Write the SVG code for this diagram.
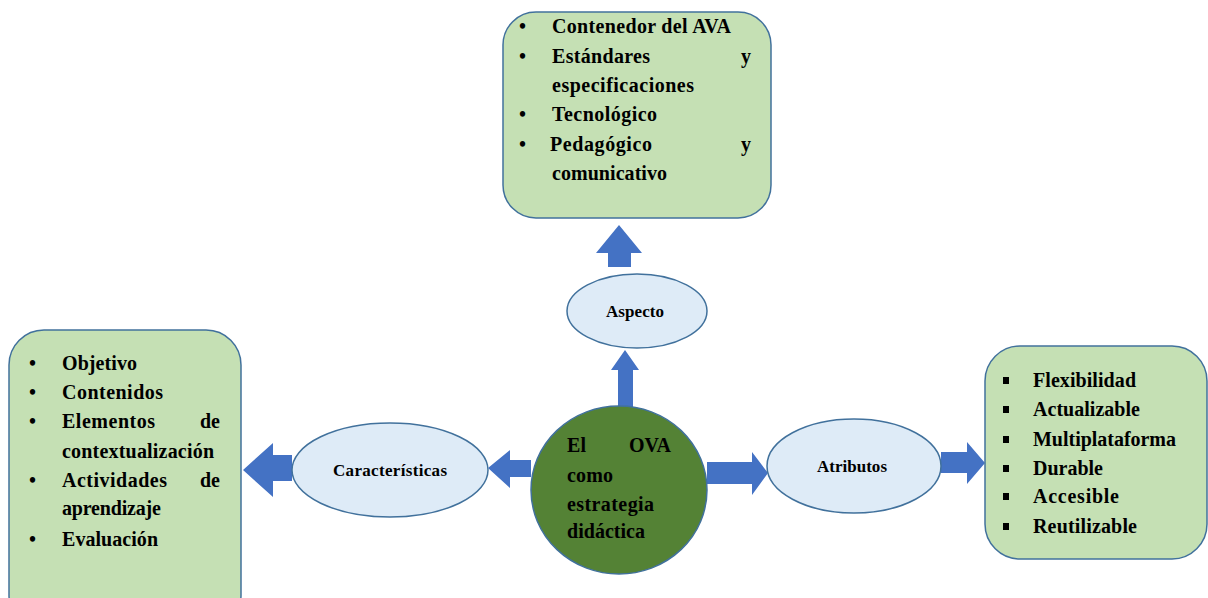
<svg xmlns="http://www.w3.org/2000/svg" width="1208" height="598" viewBox="0 0 1208 598">
<style>
.box{fill:#C5E0B4;stroke:#41719C;stroke-width:1.5}
.ell{fill:#DEEBF7;stroke:#41719C;stroke-width:1.5}
.arr{fill:#4472C4;stroke:none}
.t{font-family:"Liberation Serif","Times New Roman",serif;font-weight:bold;font-size:20px;fill:#000}
.l{font-family:"Liberation Serif","Times New Roman",serif;font-weight:bold;font-size:17px;fill:#000;text-anchor:middle}
</style>
<rect width="1208" height="598" fill="#fff"/>
<g id="connectors">
<polygon class="arr" points="608,267 608,253 596,253 619,225 642,253 631,253 631,267"/>
<polygon class="arr" points="618,407 618,370 611,370 625,350 639,370 633,370 633,407"/>
<polygon class="arr" points="531,460 510,460 510,450 488,468 510,488 510,477 531,477"/>
<polygon class="arr" points="292,455 273,455 273,443 243,470 273,497 273,481 292,481"/>
<polygon class="arr" points="707,462 752,462 752,452 768,473 752,495 752,484 707,484"/>
<polygon class="arr" points="941,452 967,452 967,442 985,463 967,484 967,473 941,473"/>
</g>
<g id="aspectos-box">
<rect class="box" x="503" y="12" width="268" height="206" rx="33"/>
<text class="t" x="519" y="33">•</text><text class="t" x="552" y="33" textLength="179">Contenedor del AVA</text>
<text class="t" x="519" y="62.5">•</text><text class="t" x="552" y="62.5" textLength="98">Estándares</text><text class="t" x="741" y="62.5">y</text>
<text class="t" x="552" y="92" textLength="142">especificaciones</text>
<text class="t" x="519" y="121">•</text><text class="t" x="552" y="121" textLength="105">Tecnológico</text>
<text class="t" x="519" y="150.5">•</text><text class="t" x="550" y="150.5" textLength="102">Pedagógico</text><text class="t" x="741" y="150.5">y</text>
<text class="t" x="552" y="180" textLength="115">comunicativo</text>
</g>
<g id="aspecto">
<ellipse class="ell" cx="637" cy="311" rx="70" ry="37"/>
<text class="l" x="635" y="317" textLength="58">Aspecto</text>
</g>
<g id="caracteristicas-box">
<rect class="box" x="9" y="330" width="232" height="300" rx="35"/>
<text class="t" x="29" y="370">•</text><text class="t" x="62" y="370" textLength="75">Objetivo</text>
<text class="t" x="29" y="399">•</text><text class="t" x="62" y="399" textLength="101">Contenidos</text>
<text class="t" x="29" y="428">•</text><text class="t" x="62" y="428" textLength="93">Elementos</text><text class="t" x="200" y="428" textLength="20">de</text>
<text class="t" x="62" y="458" textLength="152">contextualización</text>
<text class="t" x="29" y="487">•</text><text class="t" x="62" y="487" textLength="105">Actividades</text><text class="t" x="200" y="487" textLength="20">de</text>
<text class="t" x="62" y="515" textLength="99">aprendizaje</text>
<text class="t" x="29" y="546">•</text><text class="t" x="62" y="546" textLength="96">Evaluación</text>
</g>
<g id="caracteristicas">
<ellipse class="ell" cx="390" cy="470" rx="98" ry="47"/>
<text class="l" x="390" y="476" textLength="114">Características</text>
</g>
<g id="ova">
<ellipse cx="619" cy="490" rx="88" ry="84" fill="#548235" stroke="#41719C" stroke-width="1.5"/>
<text class="t" x="567" y="452" textLength="19">El</text><text class="t" x="629" y="452" textLength="42">OVA</text>
<text class="t" x="567" y="482" textLength="46">como</text>
<text class="t" x="567" y="511" textLength="87">estrategia</text>
<text class="t" x="567" y="538" textLength="78">didáctica</text>
</g>
<g id="atributos">
<ellipse class="ell" cx="854" cy="466" rx="87" ry="47"/>
<text class="l" x="852" y="472" textLength="70">Atributos</text>
</g>
<g id="atributos-box">
<rect class="box" x="985" y="346" width="222" height="213" rx="35"/>
<rect x="1003" y="377" width="6" height="7" fill="#000"/><text class="t" x="1033" y="387" textLength="103">Flexibilidad</text>
<rect x="1003" y="406" width="6" height="7" fill="#000"/><text class="t" x="1033" y="416" textLength="107">Actualizable</text>
<rect x="1003" y="436" width="6" height="7" fill="#000"/><text class="t" x="1033" y="446" textLength="143">Multiplataforma</text>
<rect x="1003" y="465" width="6" height="7" fill="#000"/><text class="t" x="1033" y="475" textLength="70">Durable</text>
<rect x="1003" y="493" width="6" height="7" fill="#000"/><text class="t" x="1033" y="503" textLength="86">Accesible</text>
<rect x="1003" y="523" width="6" height="7" fill="#000"/><text class="t" x="1033" y="533" textLength="104">Reutilizable</text>
</g>
</svg>
